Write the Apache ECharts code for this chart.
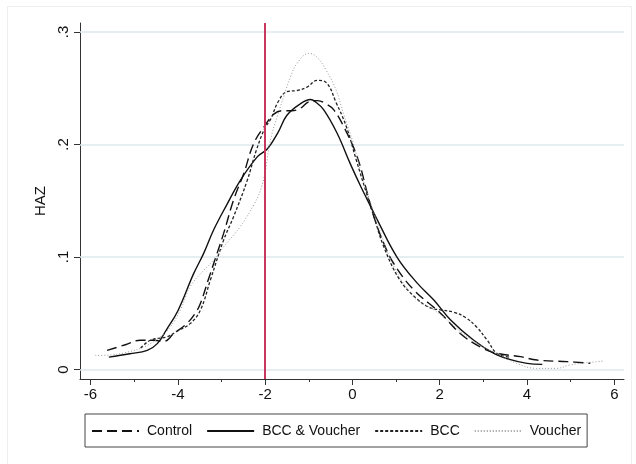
<!DOCTYPE html>
<html><head><meta charset="utf-8">
<script src="https://cdn.jsdelivr.net/npm/echarts@6/dist/echarts.min.js"></script>
<style>html,body{margin:0;padding:0;background:#fff}#c{width:636px;height:464px}</style>
</head><body><div id="c"></div>
<script>
const seriesNames = ['Control', 'BCC & Voucher', 'BCC', 'Voucher'];
const control = [[-5.62,0.017],[-5.2,0.022],[-4.86,0.026],[-4.55,0.026],[-4.32,0.025],[-4.09,0.032],[-3.79,0.041],[-3.6,0.050],[-3.48,0.059],[-3.3,0.080],[-3.18,0.094],[-2.95,0.121],[-2.72,0.151],[-2.49,0.174],[-2.26,0.201],[-2.0,0.217],[-1.8,0.227],[-1.6,0.230],[-1.4,0.230],[-1.2,0.232],[-1.0,0.238],[-0.8,0.239],[-0.6,0.236],[-0.43,0.231],[-0.2,0.216],[0.11,0.189],[0.34,0.157],[0.49,0.136],[0.72,0.112],[0.95,0.094],[1.4,0.071],[2.02,0.050],[2.47,0.032],[2.93,0.020],[3.31,0.0144],[3.85,0.0114],[4.23,0.0084],[4.92,0.007],[5.45,0.0055]];
const bccVoucher = [[-5.58,0.011],[-5.1,0.014],[-4.70,0.017],[-4.47,0.023],[-4.25,0.036],[-4.0,0.052],[-3.64,0.085],[-3.41,0.103],[-3.18,0.124],[-2.87,0.147],[-2.57,0.168],[-2.18,0.189],[-1.95,0.196],[-1.7,0.211],[-1.5,0.226],[-1.2,0.236],[-0.96,0.240],[-0.85,0.238],[-0.66,0.231],[-0.35,0.210],[-0.05,0.183],[0.2,0.162],[0.34,0.151],[0.57,0.133],[1.02,0.100],[1.48,0.077],[1.86,0.062],[2.25,0.044],[2.78,0.026],[3.24,0.0144],[3.6,0.009],[4.0,0.0055],[4.35,0.0046]];
const bcc = [[-4.85,0.019],[-4.63,0.026],[-4.25,0.029],[-4.02,0.034],[-3.71,0.041],[-3.48,0.053],[-3.25,0.080],[-2.95,0.115],[-2.72,0.136],[-2.41,0.168],[-2.2,0.195],[-2.0,0.215],[-1.88,0.222],[-1.7,0.238],[-1.5,0.247],[-1.27,0.248],[-1.04,0.251],[-0.81,0.257],[-0.6,0.255],[-0.37,0.237],[-0.14,0.216],[0.09,0.186],[0.32,0.157],[0.5,0.135],[0.72,0.109],[1.08,0.080],[1.47,0.063],[1.77,0.055],[2.02,0.053],[2.32,0.051],[2.6,0.046],[2.84,0.038],[3.09,0.026],[3.31,0.0144],[3.6,0.011]];
const voucher = [[-5.89,0.0125],[-5.54,0.0129],[-5.2,0.015],[-4.78,0.020],[-4.40,0.029],[-4.17,0.038],[-3.94,0.053],[-3.71,0.074],[-3.41,0.088],[-3.18,0.097],[-2.95,0.109],[-2.57,0.127],[-2.25,0.147],[-2.1,0.160],[-2.0,0.175],[-1.92,0.195],[-1.84,0.210],[-1.72,0.225],[-1.57,0.243],[-1.42,0.260],[-1.27,0.272],[-1.0,0.281],[-0.82,0.278],[-0.6,0.266],[-0.37,0.248],[-0.21,0.228],[0.02,0.201],[0.25,0.168],[0.55,0.133],[0.75,0.110],[1.0,0.088],[1.25,0.072],[1.47,0.062],[1.70,0.057],[2.08,0.047],[2.5,0.033],[2.99,0.020],[3.30,0.0144],[3.76,0.0055],[4.22,0.001],[4.67,0.001],[4.98,0.004],[5.36,0.006],[5.74,0.0075]];
const xTicks = [-6,-4,-2,0,2,4,6];
const xMinorTicks = [-5,-3,-1,1,3,5];
const yTicks = [0,0.1,0.2,0.3];
const cutoff = -2;

const FONT = 'Liberation Sans';
const chart = echarts.init(document.getElementById('c'), null, {renderer:'canvas'});
const axisLine = {show:true, onZero:false, lineStyle:{color:'#333', width:1}};
const mk = (name, data, ls, extra) => Object.assign({
  name, type:'line', data, symbol:'none', smooth:0.4, lineStyle:ls, itemStyle:{color:ls.color}, silent:true, z:3
}, extra||{});
chart.setOption({
  animation:false,
  backgroundColor:'#fff',
  textStyle:{fontFamily:FONT},
  grid:{left:80, right:12, top:23, bottom:85},
  graphic:[{type:'rect', shape:{x:7.5,y:6.5,width:624,height:470}, style:{fill:'none', stroke:'#eceff0', lineWidth:1}, z:-10}],
  xAxis:[
    {type:'value', min:-6.2405, max:6.222, axisLine, splitLine:{show:false},
     axisTick:{show:true, length:6, customValues:xTicks, lineStyle:{color:'#333'}},
     axisLabel:{customValues:xTicks, color:'#111', fontSize:15, margin:8, fontFamily:FONT}},
    {type:'value', position:'bottom', min:-6.2405, max:6.222, axisLine:{show:false, onZero:false}, splitLine:{show:false},
     axisTick:{show:true, length:3, customValues:xMinorTicks, lineStyle:{color:'#333'}},
     axisLabel:{show:false}}
  ],
  yAxis:{type:'value', min:-0.00844, max:0.308, axisLine, splitLine:{show:false},
    axisTick:{show:true, length:6, customValues:yTicks, lineStyle:{color:'#333'}},
    axisLabel:{customValues:yTicks, rotate:90, color:'#111', fontSize:15, margin:9, fontFamily:FONT,
      formatter:v => v===0 ? '0' : String(Math.round(v*10)/10).replace(/^0\./,'.')},
    name:'HAZ', nameLocation:'middle', nameGap:30, nameRotate:90,
    nameTextStyle:{color:'#111', fontSize:15, fontFamily:FONT}},
  legend:{left:85, top:414, data:seriesNames, itemWidth:47, itemHeight:12, itemGap:14,
    padding:[10,6,9,6], borderColor:'#444', borderWidth:1, itemStyle:{opacity:0},
    textStyle:{fontSize:14, color:'#111', fontFamily:FONT, padding:[0,0,0,3]}, selectedMode:false},
  series:[
    mk('Control', control, {color:'#111', width:1.4, type:[10,5]}),
    mk('BCC & Voucher', bccVoucher, {color:'#111', width:1.4, type:'solid'},
      {markLine:{silent:true, symbol:'none', label:{show:false}, lineStyle:{color:'#c8385e', width:2, type:'solid'},
        data:[{xAxis:cutoff}]}}),
    mk('BCC', bcc, {color:'#222', width:1.3, type:[3,2]}),
    mk('Voucher', voucher, {color:'#9a9a9a', width:1, type:[1,2]},
      {markLine:{silent:true, z:1, symbol:'none', label:{show:false},
        lineStyle:{color:'#dfe8ee', width:1.5, type:'solid'},
        data:yTicks.map(v => ({yAxis:v}))}})
  ]
});
</script></body></html>
